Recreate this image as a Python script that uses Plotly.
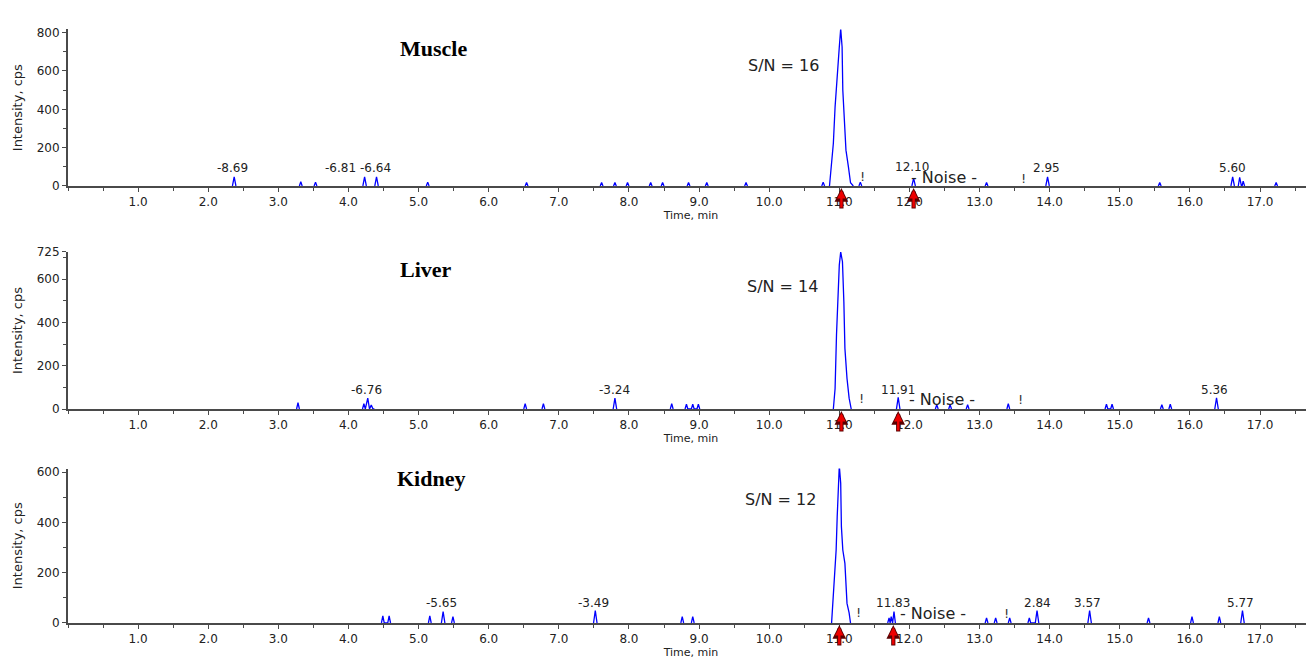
import plotly.graph_objects as go

# ---------------- data ----------------
# Chromatograms: time (min) / intensity (cps); None separates the individual peaks
muscle_time = [2.345, 2.37, 2.395, None, 3.30, 3.32, 3.34, None, 3.51, 3.53, 3.55, None,
               4.205, 4.23, 4.255, None, 4.375, 4.40, 4.425, None, 5.11, 5.13, 5.15, None,
               6.52, 6.54, 6.56, None, 7.59, 7.61, 7.63, None, 7.78, 7.80, 7.82, None,
               7.96, 7.98, 8.00, None, 8.29, 8.31, 8.33, None, 8.46, 8.48, 8.50, None,
               8.83, 8.85, 8.87, None, 9.09, 9.11, 9.13, None, 9.65, 9.67, 9.69, None,
               10.75, 10.77, 10.79, None,
               10.86, 10.88, 10.915, 10.94, 10.975, 11.00, 11.02, 11.04, 11.05, 11.07, 11.095,
               11.13, 11.16, 11.20, None,
               11.28, 11.30, 11.32, None, 12.035, 12.06, 12.085, None, 13.08, 13.10, 13.12, None,
               13.945, 13.97, 13.995, None, 15.55, 15.57, 15.59, None, 16.585, 16.61, 16.635, None,
               16.69, 16.71, 16.735, 16.745, 16.76, 16.78, None, 17.21, 17.23, 17.25]
muscle_cps = [0, 48, 0, None, 0, 22, 0, None, 0, 20, 0, None,
              0, 48, 0, None, 0, 48, 0, None, 0, 20, 0, None,
              0, 18, 0, None, 0, 18, 0, None, 0, 18, 0, None,
              0, 18, 0, None, 0, 18, 0, None, 0, 18, 0, None,
              0, 18, 0, None, 0, 18, 0, None, 0, 18, 0, None,
              0, 20, 0, None,
              0, 100, 222, 413, 569, 725, 821, 725, 500, 344, 187,
              100, 17, 0, None,
              0, 20, 0, None, 0, 40, 0, None, 0, 18, 0, None,
              0, 48, 0, None, 0, 18, 0, None, 0, 48, 0, None,
              0, 45, 0, 0, 25, 0, None, 0, 18, 0]

liver_time = [3.26, 3.28, 3.30, None, 4.20, 4.22, 4.24, 4.275, 4.30, 4.325, 4.35, 4.37, None,
              6.50, 6.52, 6.54, None, 6.76, 6.78, 6.80, None, 7.775, 7.80, 7.825, None,
              8.59, 8.61, 8.63, None, 8.80, 8.82, 8.84, 8.89, 8.91, 8.93, 8.97, 8.99, 9.01, None,
              10.915, 10.94, 10.96, 10.98, 11.00, 11.02, 11.045, 11.065, 11.08, 11.11, 11.14, 11.17,
              None, 11.815, 11.84, 11.865, None, 12.37, 12.39, 12.41, None, 12.56, 12.58, 12.60,
              None, 12.81, 12.83, 12.85, None, 13.39, 13.41, 13.43, None,
              14.79, 14.81, 14.83, 14.87, 14.89, 14.91, None,
              15.58, 15.60, 15.62, None, 15.70, 15.72, 15.74, None, 16.355, 16.38, 16.405]
liver_cps = [0, 29, 0, None, 0, 25, 0, 50, 0, 18, 0, 0, None,
             0, 25, 0, None, 0, 25, 0, None, 0, 50, 0, None,
             0, 25, 0, None, 0, 22, 0, 0, 22, 0, 0, 22, 0, None,
             0, 95, 342, 495, 665, 725, 680, 495, 280, 141, 50, 0,
             None, 0, 54, 0, None, 0, 20, 0, None, 0, 20, 0,
             None, 0, 20, 0, None, 0, 25, 0, None,
             0, 22, 0, 0, 22, 0, None,
             0, 20, 0, None, 0, 22, 0, None, 0, 52, 0]

kidney_time = [4.47, 4.49, 4.51, 4.56, 4.58, 4.60, None, 5.14, 5.16, 5.18, None,
               5.325, 5.35, 5.375, None, 5.47, 5.49, 5.51, None, 7.495, 7.52, 7.545, None,
               8.74, 8.76, 8.78, None, 8.89, 8.91, 8.93, None,
               10.89, 10.915, 10.935, 10.955, 10.97, 10.99, 11.00, 11.02, 11.03, 11.05, 11.08,
               11.11, 11.14, 11.16, None,
               11.69, 11.71, 11.725, 11.74, 11.76, 11.78, 11.80, None,
               13.08, 13.10, 13.12, None, 13.21, 13.23, 13.25, None, 13.41, 13.43, 13.45, None,
               13.69, 13.71, 13.73, 13.795, 13.82, 13.845, None, 14.545, 14.57, 14.595, None,
               15.39, 15.41, 15.43, None, 16.01, 16.03, 16.05, None, 16.40, 16.42, 16.44, None,
               16.725, 16.75, 16.775]
kidney_cps = [0, 28, 0, 0, 28, 0, None, 0, 28, 0, None,
              0, 45, 0, None, 0, 25, 0, None, 0, 49, 0, None,
              0, 25, 0, None, 0, 25, 0, None,
              0, 105, 210, 290, 422, 555, 626, 555, 383, 290, 237,
              78, 40, 0, None,
              0, 20, 0, 25, 0, 45, 0, None,
              0, 20, 0, None, 0, 20, 0, None, 0, 20, 0, None,
              0, 20, 0, 0, 49, 0, None, 0, 49, 0, None,
              0, 20, 0, None, 0, 25, 0, None, 0, 25, 0, None,
              0, 49, 0]

panel_names = ["Muscle", "Liver", "Kidney"]
sn_texts = ["S/N = 16", "S/N = 14", "S/N = 12"]

# peak labels: (text, time, intensity)
muscle_labels = [("-8.69", 2.35, 94), ("-6.81", 3.88, 94), ("-6.64", 4.38, 94),
                 ("11.07", 11.02, 864), ("12.10", 12.03, 99), ("2.95", 13.95, 94),
                 ("5.60", 16.61, 94)]
liver_labels = [("-6.76", 4.26, 88), ("-3.24", 7.79, 88), ("11.08", 11.02, 770),
                ("11.91", 11.84, 88), ("5.36", 16.35, 88)]
kidney_labels = [("-5.65", 5.33, 79), ("-3.49", 7.49, 79), ("11.06", 11.00, 659),
                 ("11.83", 11.77, 79), ("2.84", 13.82, 79), ("3.57", 14.54, 79),
                 ("5.77", 16.72, 79)]

# signal / noise markers (arrow positions in min)
muscle_arrows = [11.03, 12.06]
liver_arrows = [11.03, 11.84]
kidney_arrows = [11.00, 11.77]

x_ticks = [1.0, 2.0, 3.0, 4.0, 5.0, 6.0, 7.0, 8.0, 9.0, 10.0, 11.0, 12.0, 13.0, 14.0, 15.0, 16.0, 17.0]
y_ticks = [[0, 200, 400, 600, 800], [0, 200, 400, 600, 725], [0, 200, 400, 600]]
y_max = [817, 725, 614]

# ---------------- figure ----------------
FONT = "DejaVu Sans"
AXIS_COLOR = "#4a4a4a"
domains = [[0.7266, 0.9671], [0.3840, 0.6252], [0.0553, 0.2926]]

series = [(muscle_time, muscle_cps), (liver_time, liver_cps), (kidney_time, kidney_cps)]
labels = [muscle_labels, liver_labels, kidney_labels]
arrows = [muscle_arrows, liver_arrows, kidney_arrows]

# text positions (time, intensity) per panel
name_pos = [(5.21, 718), (5.10, 642), (5.17, 576)]
sn_pos = [(10.21, 630), (10.19, 565), (10.16, 489)]
noise_pos = [(12.49, 42), (12.47, 42), (12.34, 36)]
bang_pos = [[(11.33, 47), (13.63, 39)], [(11.32, 50), (13.58, 46)], [(11.27, 42), (13.38, 36)]]
tri_y = [36, 37, 28]

fig = go.Figure()
annotations = []
layout = {}
for i in range(3):
    xs = "x" if i == 0 else f"x{i+1}"
    ys = "y" if i == 0 else f"y{i+1}"
    xk = "xaxis" if i == 0 else f"xaxis{i+1}"
    yk = "yaxis" if i == 0 else f"yaxis{i+1}"
    t, c = series[i]
    fig.add_trace(go.Scatter(x=t, y=c, mode="lines", line=dict(color="#0000ff", width=1.3),
                             connectgaps=False, xaxis=xs, yaxis=ys, showlegend=False,
                             hoverinfo="skip"))
    fig.add_trace(go.Scatter(x=[-0.075], y=[tri_y[i]], mode="markers",
                             marker=dict(symbol="triangle-right", size=11, color="#1c1cb8",
                                         line=dict(color="#00004a", width=1)),
                             cliponaxis=False, xaxis=xs, yaxis=ys, showlegend=False,
                             hoverinfo="skip"))
    layout[xk] = dict(domain=[0, 1], anchor=ys, range=[0, 17.77], showline=True,
                      linecolor=AXIS_COLOR, linewidth=2, ticks="outside", ticklen=4,
                      tickwidth=1, tickcolor=AXIS_COLOR, tickvals=x_ticks,
                      ticktext=[f"{v:.1f}" for v in x_ticks],
                      tickfont=dict(family=FONT, size=12, color="#222222"),
                      title=dict(text="Time, min", font=dict(family=FONT, size=11, color="#222222"),
                                 standoff=1),
                      showgrid=False, zeroline=False, automargin=False,
                      minor=dict(dtick=0.5, tick0=0, ticks="outside", ticklen=3,
                                 tickcolor=AXIS_COLOR, showgrid=False))
    layout[yk] = dict(domain=domains[i], anchor=xs, range=[0, y_max[i]], showline=True,
                      linecolor=AXIS_COLOR, linewidth=2, ticks="outside", ticklen=4,
                      tickwidth=1, tickcolor=AXIS_COLOR, tickvals=y_ticks[i],
                      tickfont=dict(family=FONT, size=12, color="#222222"),
                      title=dict(text="Intensity, cps", font=dict(family=FONT, size=13, color="#222222"),
                                 standoff=11),
                      showgrid=False, zeroline=False, automargin=False,
                      minor=dict(dtick=100, tick0=0, ticks="outside", ticklen=3,
                                 tickcolor=AXIS_COLOR, showgrid=False))
    annotations.append(dict(text=f"<b>{panel_names[i]}</b>", x=name_pos[i][0], y=name_pos[i][1],
                            xref=xs, yref=ys, showarrow=False,
                            font=dict(family="Liberation Serif", size=22, color="#000000")))
    annotations.append(dict(text=sn_texts[i], x=sn_pos[i][0], y=sn_pos[i][1], xref=xs, yref=ys,
                            showarrow=False, font=dict(family=FONT, size=16, color="#222222")))
    annotations.append(dict(text="- Noise -", x=noise_pos[i][0], y=noise_pos[i][1], xref=xs,
                            yref=ys, showarrow=False,
                            font=dict(family=FONT, size=16, color="#222222")))
    for bx, by in bang_pos[i]:
        annotations.append(dict(text="!", x=bx, y=by, xref=xs, yref=ys, showarrow=False,
                                font=dict(family=FONT, size=13, color="#333333")))
    for txt, lx, ly in labels[i]:
        annotations.append(dict(text=txt, x=lx, y=ly, xref=xs, yref=ys, showarrow=False,
                                font=dict(family=FONT, size=12, color="#222222")))
    for ax_t in arrows[i]:
        annotations.append(dict(text="", x=ax_t, y=0, xref=xs, yref=ys, showarrow=True,
                                ax=0, ay=24, arrowhead=2, arrowsize=0.65, arrowwidth=4.2,
                                arrowcolor="#5a0000", standoff=2))
        annotations.append(dict(text="", x=ax_t, y=0, xref=xs, yref=ys, showarrow=True,
                                ax=0, ay=23, arrowhead=2, arrowsize=0.7, arrowwidth=2.4,
                                arrowcolor="#ee0000", standoff=4))

# the page has an 8px body margin, so the figure is sized to fit the window after it
fig.update_layout(width=1306, height=651, margin=dict(l=60, r=0, t=0, b=0),
                  plot_bgcolor="white", paper_bgcolor="white", annotations=annotations,
                  showlegend=False, **layout)

fig.write_html("out.html")
